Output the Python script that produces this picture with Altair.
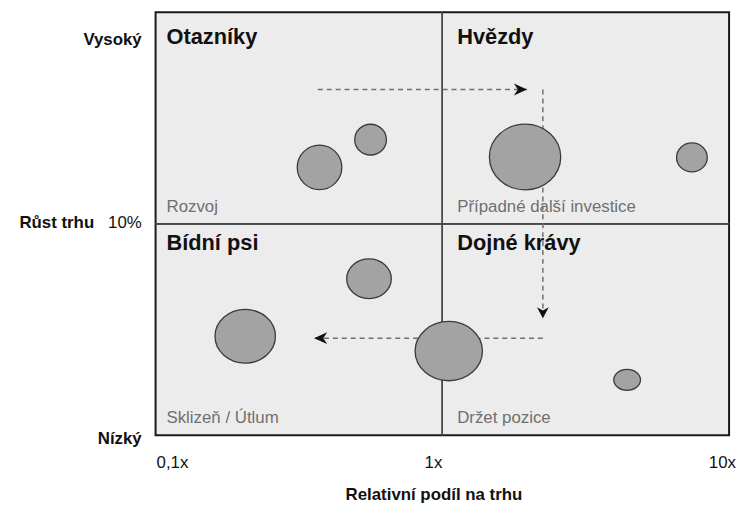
import altair as alt
import pandas as pd

# ---------------- data ----------------
# Bubbles (relative market share, market growth %, horizontal diameter, height/width ratio)
bubble_share = [0.373, 0.562, 1.943, 7.42, 0.555, 0.2054, 1.053, 4.41]
bubble_growth = [12.67, 13.98, 13.16, 13.14, 7.40, 4.68, 3.98, 2.62]
bubble_size = [45, 32, 72, 31, 45, 61, 68, 27]
bubble_aspect = [1.0, 0.97, 0.92, 0.94, 0.89, 0.89, 0.88, 0.79]

# Quadrants
quad_titles = ["Otazníky", "Hvězdy", "Bídní psi", "Dojné krávy"]
quad_actions = ["Rozvoj", "Případné další investice", "Sklizeň / Útlum", "Držet pozice"]
quad_share = [0.1, 1, 0.1, 1]
quad_top = [20, 20, 10, 10]
quad_bottom = [10, 10, 0, 0]

# Strategic movement arrows
arrow_x = [0.368, 2.242, 2.242]
arrow_x2 = [1.974, 2.242, 0.357]
arrow_y = [16.35, 16.35, 4.59]
arrow_y2 = [16.35, 5.53, 4.59]
arrow_dir = ["right", "down", "left"]

# Axis labels
growth_values = [20, 10, 0]
growth_labels = ["Vysoký", "10%", "Nízký"]
growth_title = "Růst trhu"
share_ticks = [0.1, 1, 10]
share_labels = ["0,1x", "1x", "10x"]
share_title = "Relativní podíl na trhu"

# ---------------- helpers ----------------
def ellipse_path(r):
    k = 0.5523
    a, b = r * k, r
    return (f"M1,0C1,{a:.4f} {k},{b:.4f} 0,{b:.4f}C{-k},{b:.4f} -1,{a:.4f} -1,0"
            f"C-1,{-a:.4f} {-k},{-b:.4f} 0,{-b:.4f}C{k},{-b:.4f} 1,{-a:.4f} 1,0Z")

arrow_paths = {
    "right": "M0,0L-1,-0.45L-0.7,0L-1,0.45Z",
    "down": "M0,0L-0.45,-0.85L0,-0.6L0.45,-0.85Z",
    "left": "M0,0L1,-0.45L0.7,0L1,0.45Z",
}

FONT = "Liberation Sans"
xs = alt.Scale(type="log", domain=[0.1, 10], nice=False)
ys = alt.Scale(type="linear", domain=[0, 20], nice=False, zero=False)

bubbles = pd.DataFrame({
    "share": bubble_share,
    "growth": bubble_growth,
    "diam": bubble_size,
    "path": [ellipse_path(r) for r in bubble_aspect],
})
quads = pd.DataFrame({
    "title": quad_titles, "action": quad_actions,
    "share": quad_share, "top": quad_top, "bottom": quad_bottom,
})
arrows = pd.DataFrame({
    "x": arrow_x, "x2": arrow_x2, "y": arrow_y, "y2": arrow_y2,
    "path": [arrow_paths[d] for d in arrow_dir],
})
growth = pd.DataFrame({"growth": growth_values, "label": growth_labels})
ticks = pd.DataFrame({"share": share_ticks, "label": share_labels})

layers = []

# dividing lines
layers.append(alt.Chart(bubbles).mark_rule(color="#4a4a4a", strokeWidth=1).encode(
    x=alt.datum(1, scale=xs, axis=None)))
layers.append(alt.Chart(bubbles).mark_rule(color="#4a4a4a", strokeWidth=1).encode(
    y=alt.datum(10, scale=ys, axis=None)))

# quadrant titles and actions
for i in range(len(quad_titles)):
    dx = 11 if quad_share[i] < 1 else 15
    dy_t = 32 if quad_top[i] == 20 else 26.5
    sub = quads.iloc[[i]]
    layers.append(alt.Chart(sub).mark_text(
        align="left", baseline="alphabetic", dx=dx, dy=dy_t,
        font=FONT, fontSize=22, fontWeight="bold", color="#111111").encode(
        x=alt.X("share:Q", scale=xs, axis=None),
        y=alt.Y("top:Q", scale=ys, axis=None),
        text="title:N"))
    layers.append(alt.Chart(sub).mark_text(
        align="left", baseline="alphabetic", dx=dx, dy=-12,
        font=FONT, fontSize=17, color="#707070").encode(
        x=alt.X("share:Q", scale=xs, axis=None),
        y=alt.Y("bottom:Q", scale=ys, axis=None),
        text="action:N"))

# dashed arrows
layers.append(alt.Chart(arrows).mark_rule(
    color="#707070", strokeWidth=1.5, strokeDash=[5, 4]).encode(
    x=alt.X("x:Q", scale=xs, axis=None), x2="x2:Q",
    y=alt.Y("y:Q", scale=ys, axis=None), y2="y2:Q"))
layers.append(alt.Chart(arrows).mark_point(
    filled=True, color="#111111", opacity=1, size=700).encode(
    x=alt.X("x2:Q", scale=xs, axis=None),
    y=alt.Y("y2:Q", scale=ys, axis=None),
    shape=alt.Shape("path:N", scale=None)))

# bubbles
layers.append(alt.Chart(bubbles).transform_calculate(
    area="datum.diam * datum.diam").mark_point(
    filled=True, fill="#a3a3a3", stroke="#3a3a3a", strokeWidth=1.3,
    opacity=1, fillOpacity=1).encode(
    x=alt.X("share:Q", scale=xs, axis=None),
    y=alt.Y("growth:Q", scale=ys, axis=None),
    size=alt.Size("area:Q", scale=None),
    shape=alt.Shape("path:N", scale=None)))

# growth axis labels
g_style = {
    "Vysoký": dict(dy=32.5, fontWeight="bold"),
    "10%": dict(dy=4.5, fontWeight="normal"),
    "Nízký": dict(dy=9, fontWeight="bold"),
}
for i, lab in enumerate(growth_labels):
    layers.append(alt.Chart(growth.iloc[[i]]).mark_text(
        align="right", baseline="alphabetic", font=FONT, fontSize=17,
        color="#111111", **g_style[lab]).encode(
        x=alt.value(-14),
        y=alt.Y("growth:Q", scale=ys, axis=None),
        text="label:N"))
layers.append(alt.Chart(growth.iloc[[1]]).mark_text(
    align="right", baseline="alphabetic", font=FONT, fontSize=17,
    fontWeight="bold", color="#111111", dy=4.5).encode(
    x=alt.value(-62),
    y=alt.Y("growth:Q", scale=ys, axis=None),
    text=alt.value(growth_title)))

# share axis labels
t_style = {"0,1x": ("left", 1), "1x": ("right", 0), "10x": ("right", 7)}
for i, lab in enumerate(share_labels):
    al, dx = t_style[lab]
    layers.append(alt.Chart(ticks.iloc[[i]]).mark_text(
        align=al, baseline="alphabetic", dx=dx, font=FONT, fontSize=17,
        color="#111111").encode(
        x=alt.X("share:Q", scale=xs, axis=None),
        y=alt.value(460),
        text="label:N"))
layers.append(alt.Chart(ticks.iloc[[0]]).mark_text(
    align="center", baseline="alphabetic", font=FONT, fontSize=17,
    fontWeight="bold", color="#111111").encode(
    x=alt.value(281), y=alt.value(492), text=alt.value(share_title)))

chart = alt.layer(*layers).properties(
    width=579, height=427,
    autosize=alt.AutoSizeParams(type="none"),
    padding={"left": 149, "top": 2, "right": 8, "bottom": 66},
).configure(background="white").configure_view(
    fill="#ececec", stroke="#1a1a1a", strokeWidth=2
)

chart.save("out.html", embed_options={"renderer": "svg", "actions": False})
